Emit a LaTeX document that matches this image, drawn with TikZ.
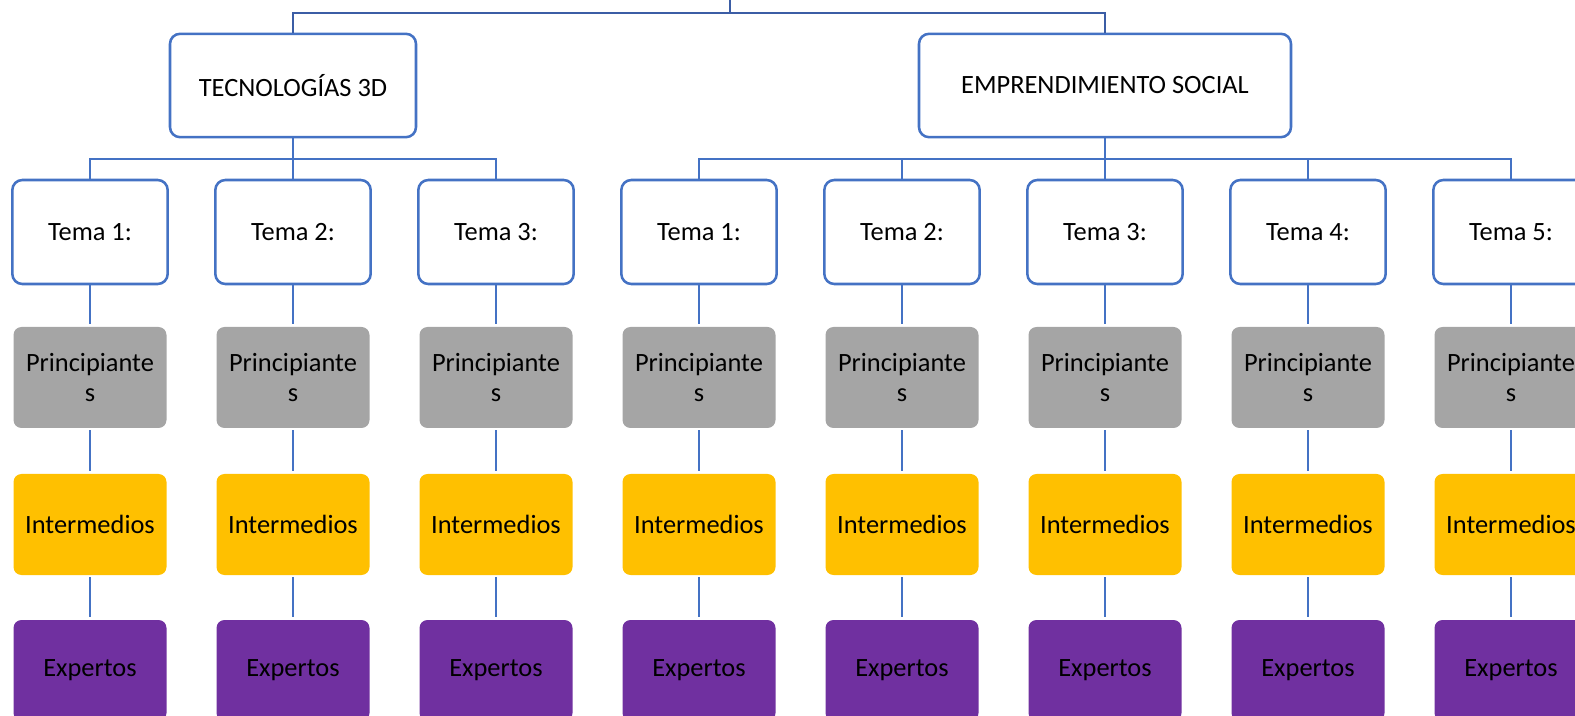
\documentclass[tikz,border=0pt]{standalone}
\usepackage{fontspec}
\setmainfont{Carlito}

\definecolor{linkblue}{HTML}{4472C4}
\definecolor{topblue}{HTML}{3B5DA5}
\definecolor{nivgris}{HTML}{A5A5A5}
\definecolor{nivoro}{HTML}{FFC000}
\definecolor{nivmorado}{HTML}{7030A0}

\tikzset{
  boxfont/.style={font=\fontsize{19.8}{22.5}\selectfont},
  areabox/.style={boxfont, draw=linkblue, line width=1.9pt, fill=white, rounded corners=7.5pt,
    minimum height=77.5pt, inner sep=0pt, align=center},
  temabox/.style={boxfont, draw=linkblue, line width=1.9pt, fill=white, rounded corners=7.5pt,
    minimum width=116.5pt, minimum height=78pt, inner sep=0pt, align=center},
  nivelbox/.style={boxfont, rounded corners=6pt, minimum width=114.75pt, minimum height=75.75pt,
    inner sep=0pt, align=center},
  link/.style={draw=linkblue, line width=2.05pt},
  toplink/.style={draw=topblue, line width=2.05pt},
}

\begin{document}
\begin{tikzpicture}[x=0.75pt,y=0.75pt,yscale=-1]
  \useasboundingbox (0,0) rectangle (1575,716);

  % Areas
  \node[areabox, minimum width=184.5pt] (tec) at (293,85.5) {TECNOLOGÍAS 3D};
  \node[areabox, minimum width=279pt] (emp) at (1105,85.5) {EMPRENDIMIENTO SOCIAL};

  % Root connector
  \coordinate (root) at (730,0);
  \coordinate (rootbus) at (730,13);
  \draw[toplink] (root) -- (rootbus);
  \draw[toplink] (tec.north) |- (rootbus) -| (emp.north);

  % Temas and levels
  \foreach \k/\x/\n in {1/90/1, 2/293/2, 3/496/3, 4/699/1, 5/902/2, 6/1105/3, 7/1308/4, 8/1511/5} {
    \node[temabox] (t\k) at (\x,232) {Tema \n:};
    \node[nivelbox, fill=nivgris] (p\k) at (\x,377.5) {Principiante\\s};
    \node[nivelbox, fill=nivoro] (i\k) at (\x,524.5) {Intermedios};
    \node[nivelbox, fill=nivmorado] (e\k) at (\x,670.5) {Expertos};
    \draw[link, shorten >=2.25pt] (t\k) -- (p\k);
    \draw[link, shorten <=1.5pt, shorten >=2.25pt] (p\k) -- (i\k);
    \draw[link, shorten <=1.5pt, shorten >=2.25pt] (i\k) -- (e\k);
  }

  % Tema buses
  \coordinate (tecbus) at (293,159);
  \coordinate (empbus) at (1105,159);
  \draw[link] (tec) -- (t2);
  \draw[link] (t1.north) |- (tecbus) -| (t3.north);
  \draw[link] (emp) -- (t6);
  \draw[link] (t4.north) |- (empbus) -| (t8.north);
  \draw[link] (t5.north) -- (t5.north |- empbus);
  \draw[link] (t7.north) -- (t7.north |- empbus);
\end{tikzpicture}
\end{document}
